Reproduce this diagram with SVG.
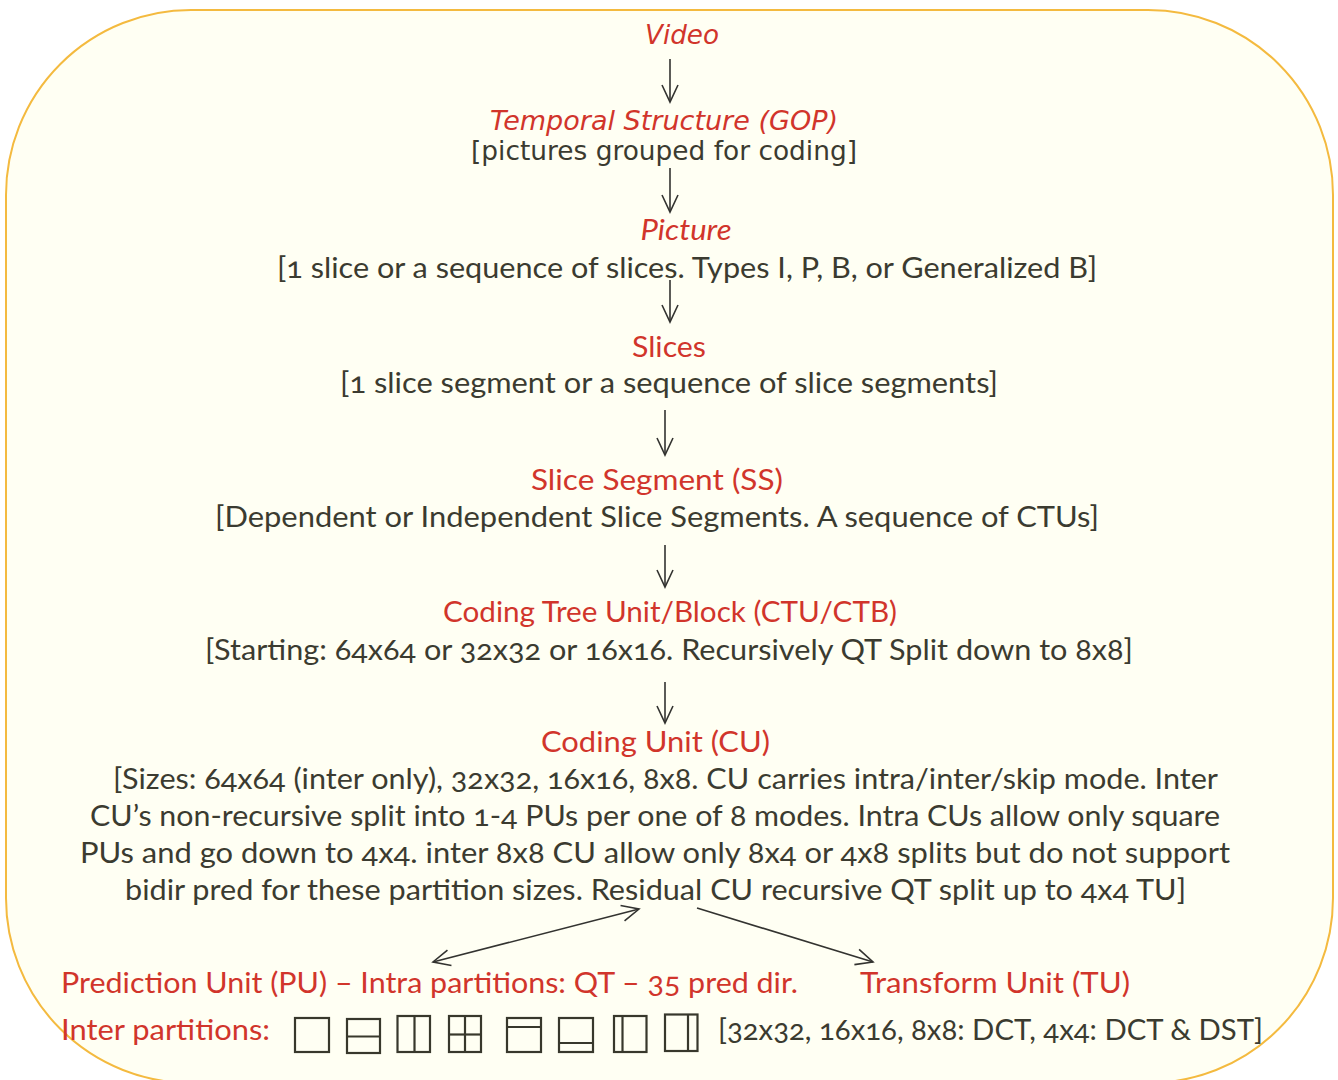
<svg xmlns="http://www.w3.org/2000/svg" width="1338" height="1080" viewBox="0 0 1338 1080">
<style>
.t{font-family:Lato,"Open Sans","Liberation Sans",sans-serif;font-size:29px;fill:#3b3b30;text-anchor:middle;font-variant-numeric:oldstyle-nums}
.dv{font-family:"DejaVu Sans",sans-serif;font-size:26.5px;fill:#3b3b30;text-anchor:middle}
.r{fill:#d1352b}
.i{font-style:italic}
.c{fill:none;stroke:#333330;stroke-width:1.6}
.p{fill:none;stroke:#38382c;stroke-width:2.2}
</style>
<defs>
<marker id="ah" viewBox="0 0 20 20" refX="18" refY="10" markerWidth="20" markerHeight="20" markerUnits="userSpaceOnUse" orient="auto-start-reverse">
<path d="M1,2 L18,10 L1,18" fill="none" stroke="#333330" stroke-width="1.6"/>
</marker>
</defs>
<rect x="0" y="0" width="1338" height="1080" fill="#ffffff"/>
<rect id="frame" x="6" y="10" width="1327" height="1073" rx="185" ry="185" fill="#fffff3" stroke="#f4ba3f" stroke-width="2"/>

<g id="video"><text class="dv i r" x="682" y="44" textLength="74" lengthAdjust="spacingAndGlyphs">Video</text></g>
<g id="gop">
<text class="dv i r" x="664" y="130" textLength="348" lengthAdjust="spacingAndGlyphs">Temporal Structure (GOP)</text>
<text class="dv" x="664" y="160" textLength="386" lengthAdjust="spacingAndGlyphs">[pictures grouped for coding]</text>
</g>
<g id="picture">
<text class="t i r" x="686" y="240" textLength="91" lengthAdjust="spacingAndGlyphs">Picture</text>
<text class="t" x="687" y="278" textLength="820" lengthAdjust="spacingAndGlyphs">[1 slice or a sequence of slices. Types I, P, B, or Generalized B]</text>
</g>
<g id="slices">
<text class="t r" x="669" y="357" textLength="74" lengthAdjust="spacingAndGlyphs">Slices</text>
<text class="t" x="669" y="393" textLength="658" lengthAdjust="spacingAndGlyphs">[1 slice segment or a sequence of slice segments]</text>
</g>
<g id="ss">
<text class="t r" x="657" y="490" textLength="252" lengthAdjust="spacingAndGlyphs">Slice Segment (SS)</text>
<text class="t" x="657" y="527" textLength="884" lengthAdjust="spacingAndGlyphs">[Dependent or Independent Slice Segments. A sequence of CTUs]</text>
</g>
<g id="ctu">
<text class="t r" x="670" y="622" textLength="454" lengthAdjust="spacingAndGlyphs">Coding Tree Unit/Block (CTU/CTB)</text>
<text class="t" x="669" y="660" textLength="928" lengthAdjust="spacingAndGlyphs">[Starting: 64x64 or 32x32 or 16x16. Recursively QT Split down to 8x8]</text>
</g>
<g id="cu">
<text class="t r" x="655.5" y="752" textLength="229" lengthAdjust="spacingAndGlyphs">Coding Unit (CU)</text>
<text class="t" x="665.5" y="789" textLength="1105" lengthAdjust="spacingAndGlyphs">[Sizes: 64x64 (inter only), 32x32, 16x16, 8x8. CU carries intra/inter/skip mode. Inter</text>
<text class="t" x="655" y="826" textLength="1130" lengthAdjust="spacingAndGlyphs">CU’s non-recursive split into 1-4 PUs per one of 8 modes. Intra CUs allow only square</text>
<text class="t" x="655" y="863" textLength="1150" lengthAdjust="spacingAndGlyphs">PUs and go down to 4x4. inter 8x8 CU allow only 8x4 or 4x8 splits but do not support</text>
<text class="t" x="655.5" y="900" textLength="1061" lengthAdjust="spacingAndGlyphs">bidir pred for these partition sizes. Residual CU recursive QT split up to 4x4 TU]</text>
</g>
<g id="pu">
<text class="t r" x="429.5" y="993" textLength="737" lengthAdjust="spacingAndGlyphs">Prediction Unit (PU) – Intra partitions: QT – 35 pred dir.</text>
<text class="t r" x="61" y="1040" style="text-anchor:start" textLength="209" lengthAdjust="spacingAndGlyphs">Inter partitions:</text>
<g id="partitions">
<rect class="p" x="295" y="1018" width="34" height="34"/>
<rect class="p" x="347" y="1019" width="33" height="34"/><line class="p" x1="347" y1="1036.5" x2="380" y2="1036.5"/>
<rect class="p" x="397.5" y="1016" width="32.5" height="36"/><line class="p" x1="414.5" y1="1016" x2="414.5" y2="1052"/>
<rect class="p" x="449" y="1016" width="32" height="36"/><line class="p" x1="465" y1="1016" x2="465" y2="1052"/><line class="p" x1="449" y1="1034.5" x2="481" y2="1034.5"/>
<rect class="p" x="507" y="1018" width="34" height="34"/><line class="p" x1="507" y1="1027" x2="541" y2="1027"/>
<rect class="p" x="559" y="1018" width="34" height="34"/><line class="p" x1="559" y1="1043" x2="593" y2="1043"/>
<rect class="p" x="614" y="1016" width="32.5" height="36"/><line class="p" x1="622.5" y1="1016" x2="622.5" y2="1052"/>
<rect class="p" x="665" y="1014.5" width="32.5" height="36.5"/><line class="p" x1="688" y1="1014.5" x2="688" y2="1051"/>
</g>
</g>
<g id="tu">
<text class="t r" x="995" y="993" textLength="270" lengthAdjust="spacingAndGlyphs">Transform Unit (TU)</text>
<text class="t" x="990.5" y="1040" textLength="545" lengthAdjust="spacingAndGlyphs">[32x32, 16x16, 8x8: DCT, 4x4: DCT &amp; DST]</text>
</g>

<g id="connectors">
<line class="c" x1="670" y1="59" x2="670" y2="102" marker-end="url(#ah)"/>
<line class="c" x1="670" y1="168" x2="670" y2="212" marker-end="url(#ah)"/>
<line class="c" x1="670" y1="280" x2="670" y2="322" marker-end="url(#ah)"/>
<line class="c" x1="665" y1="410" x2="665" y2="455" marker-end="url(#ah)"/>
<line class="c" x1="665" y1="545" x2="665" y2="587" marker-end="url(#ah)"/>
<line class="c" x1="665" y1="682" x2="665" y2="723" marker-end="url(#ah)"/>
<line class="c" x1="433" y1="962" x2="639" y2="909" marker-start="url(#ah)" marker-end="url(#ah)"/>
<line class="c" x1="697" y1="908" x2="873" y2="962" marker-end="url(#ah)"/>
</g>
</svg>
